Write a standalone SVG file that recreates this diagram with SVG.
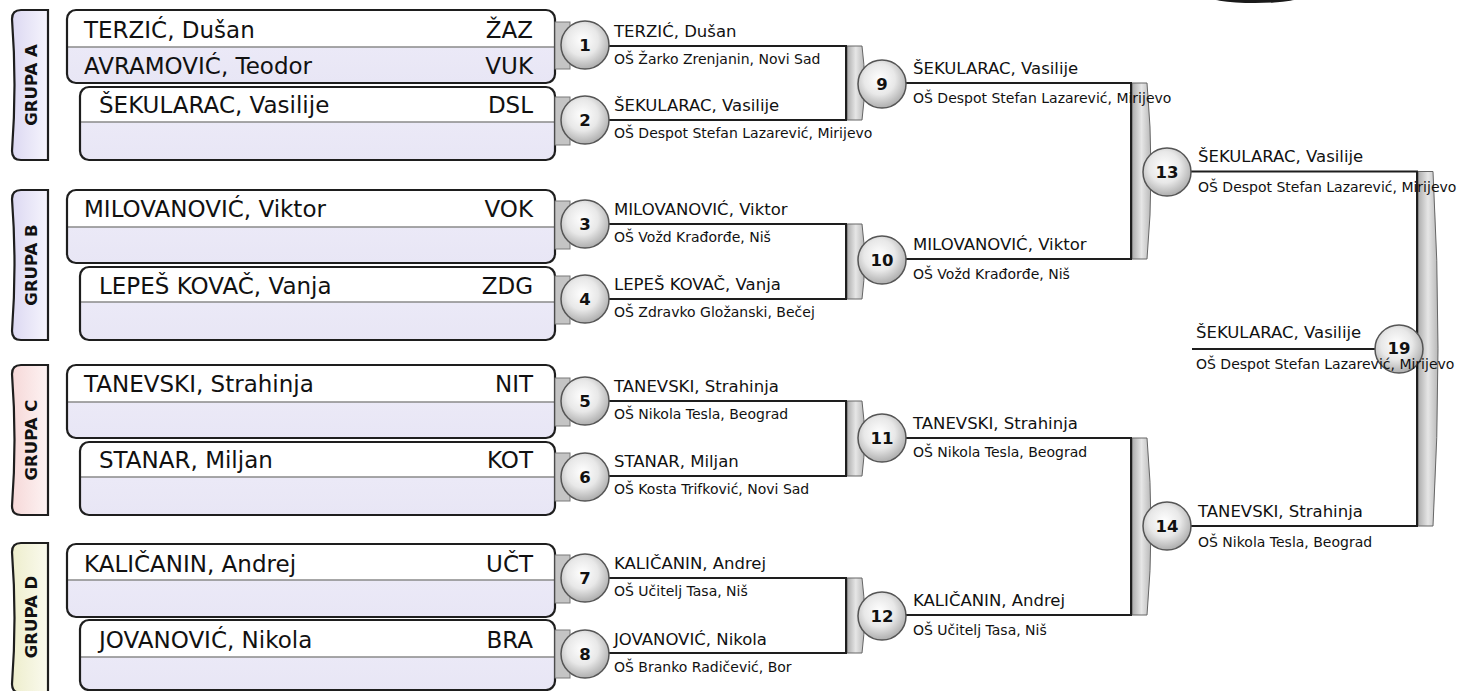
<svg xmlns="http://www.w3.org/2000/svg" width="1478" height="691" viewBox="0 0 1478 691">
<style>
text{font-family:"DejaVu Sans","Liberation Sans",sans-serif;fill:#111}
.big{font-size:23px}
.code{font-size:23px;text-anchor:end}
.nm{font-size:16.5px}
.sc{font-size:14px}
.num{font-size:16.5px;font-weight:bold;text-anchor:middle}
.grp{font-size:16.5px;font-weight:bold;text-anchor:middle}
.outline{fill:none;stroke:#1e1e1e;stroke-width:2.2}
.low{fill:url(#lowG)}
.top{fill:#fff}
.div{stroke:#8a8a8a;stroke-width:1.5}
.tab{stroke:#1e1e1e;stroke-width:2.2}
.circ{fill:url(#circG);stroke:#555;stroke-width:1.5}
.blk{fill:#c4c4c4;stroke:#7a7a7a;stroke-width:1}
.ln{fill:none;stroke:#1e1e1e;stroke-width:2}
.bar{fill:url(#barG);stroke:#666;stroke-width:1}
.edge{stroke:#1e1e1e;stroke-width:2}
</style>
<defs>
<linearGradient id="lowG" x1="0" y1="0" x2="0" y2="1"><stop offset="0" stop-color="#eeecf9"/><stop offset="1" stop-color="#e8e6f5"/></linearGradient>
<linearGradient id="tabAB" x1="0" y1="0" x2="1" y2="0"><stop offset="0" stop-color="#dcd8f2"/><stop offset="1" stop-color="#f6f5fd"/></linearGradient>
<linearGradient id="tabC" x1="0" y1="0" x2="1" y2="0"><stop offset="0" stop-color="#f6d8d8"/><stop offset="1" stop-color="#fdf3f3"/></linearGradient>
<linearGradient id="tabD" x1="0" y1="0" x2="1" y2="0"><stop offset="0" stop-color="#eeeecd"/><stop offset="1" stop-color="#fafaee"/></linearGradient>
<radialGradient id="circG" cx="0.45" cy="0.4" r="0.65"><stop offset="0" stop-color="#ffffff"/><stop offset="0.5" stop-color="#e8e8e8"/><stop offset="1" stop-color="#a4a4a4"/></radialGradient>
<linearGradient id="barG" x1="0" y1="0" x2="1" y2="0"><stop offset="0" stop-color="#acacac"/><stop offset="0.5" stop-color="#e6e6e6"/><stop offset="1" stop-color="#b8b8b8"/></linearGradient>
</defs>

<ellipse cx="1255" cy="-5" rx="50" ry="8" fill="#1a1a1a"/>

<!-- group tabs -->
<g id="grupaA">
<path class="tab" fill="url(#tabAB)" d="M48,10 H21 Q12,10 12,19 Q17,85 12,151 Q12,160 21,160 H48 Z"/>
<text class="grp" transform="translate(37,85) rotate(-90)">GRUPA A</text>
</g>
<g id="grupaB">
<path class="tab" fill="url(#tabAB)" d="M48,190 H21 Q12,190 12,199 Q17,265 12,331 Q12,340 21,340 H48 Z"/>
<text class="grp" transform="translate(37,265) rotate(-90)">GRUPA B</text>
</g>
<g id="grupaC">
<path class="tab" fill="url(#tabC)" d="M48,365 H21 Q12,365 12,374 Q17,440 12,506 Q12,515 21,515 H48 Z"/>
<text class="grp" transform="translate(37,440) rotate(-90)">GRUPA C</text>
</g>
<g id="grupaD">
<path class="tab" fill="url(#tabD)" d="M48,543 H21 Q12,543 12,552 Q17,618 12,684 Q12,693 21,693 H48 Z"/>
<text class="grp" transform="translate(37,617) rotate(-90)">GRUPA D</text>
</g>

<!-- player boxes -->
<g id="boxA1">
<rect class="low" x="67" y="10" width="488" height="73" rx="9"/>
<path class="top" d="M67,19 Q67,10 76,10 H546 Q555,10 555,19 V47 H67 Z"/>
<line class="div" x1="68" y1="47" x2="554" y2="47"/>
<rect class="outline" x="67" y="10" width="488" height="73" rx="9"/>
<text class="big" x="84" y="38">TERZIĆ, Dušan</text>
<text class="code" x="533" y="38">ŽAZ</text>
<text class="big" x="84" y="74">AVRAMOVIĆ, Teodor</text>
<text class="code" x="533" y="74">VUK</text>
</g>
<g id="boxA2">
<rect class="low" x="80" y="87" width="475" height="73" rx="9"/>
<path class="top" d="M80,96 Q80,87 89,87 H546 Q555,87 555,96 V122 H80 Z"/>
<line class="div" x1="81" y1="122" x2="554" y2="122"/>
<rect class="outline" x="80" y="87" width="475" height="73" rx="9"/>
<text class="big" x="99" y="113">ŠEKULARAC, Vasilije</text>
<text class="code" x="533" y="113">DSL</text>
</g>
<g id="boxB1">
<rect class="low" x="67" y="190" width="488" height="73" rx="9"/>
<path class="top" d="M67,199 Q67,190 76,190 H546 Q555,190 555,199 V227 H67 Z"/>
<line class="div" x1="68" y1="227" x2="554" y2="227"/>
<rect class="outline" x="67" y="190" width="488" height="73" rx="9"/>
<text class="big" x="84" y="217">MILOVANOVIĆ, Viktor</text>
<text class="code" x="533" y="217">VOK</text>
</g>
<g id="boxB2">
<rect class="low" x="80" y="267" width="475" height="73" rx="9"/>
<path class="top" d="M80,276 Q80,267 89,267 H546 Q555,267 555,276 V302 H80 Z"/>
<line class="div" x1="81" y1="302" x2="554" y2="302"/>
<rect class="outline" x="80" y="267" width="475" height="73" rx="9"/>
<text class="big" x="99" y="294">LEPEŠ KOVAČ, Vanja</text>
<text class="code" x="533" y="294">ZDG</text>
</g>
<g id="boxC1">
<rect class="low" x="67" y="365" width="488" height="73" rx="9"/>
<path class="top" d="M67,374 Q67,365 76,365 H546 Q555,365 555,374 V402 H67 Z"/>
<line class="div" x1="68" y1="402" x2="554" y2="402"/>
<rect class="outline" x="67" y="365" width="488" height="73" rx="9"/>
<text class="big" x="84" y="392">TANEVSKI, Strahinja</text>
<text class="code" x="533" y="392">NIT</text>
</g>
<g id="boxC2">
<rect class="low" x="80" y="442" width="475" height="73" rx="9"/>
<path class="top" d="M80,451 Q80,442 89,442 H546 Q555,442 555,451 V477 H80 Z"/>
<line class="div" x1="81" y1="477" x2="554" y2="477"/>
<rect class="outline" x="80" y="442" width="475" height="73" rx="9"/>
<text class="big" x="99" y="468">STANAR, Miljan</text>
<text class="code" x="533" y="468">KOT</text>
</g>
<g id="boxD1">
<rect class="low" x="67" y="544" width="488" height="73" rx="9"/>
<path class="top" d="M67,553 Q67,544 76,544 H546 Q555,544 555,553 V580 H67 Z"/>
<line class="div" x1="68" y1="580" x2="554" y2="580"/>
<rect class="outline" x="67" y="544" width="488" height="73" rx="9"/>
<text class="big" x="84" y="572">KALIČANIN, Andrej</text>
<text class="code" x="533" y="572">UČT</text>
</g>
<g id="boxD2">
<rect class="low" x="80" y="620" width="475" height="70" rx="9"/>
<path class="top" d="M80,629 Q80,620 89,620 H546 Q555,620 555,629 V657 H80 Z"/>
<line class="div" x1="81" y1="657" x2="554" y2="657"/>
<rect class="outline" x="80" y="620" width="475" height="70" rx="9"/>
<text class="big" x="99" y="648">JOVANOVIĆ, Nikola</text>
<text class="code" x="533" y="648">BRA</text>
</g>

<!-- connectors -->
<g id="connectors">
<path class="ln" d="M600,46 H846 V120 H600"/>
<path class="ln" d="M600,224 H846 V299 H600"/>
<path class="ln" d="M600,401 H846 V476 H600"/>
<path class="ln" d="M600,578 H846 V653 H600"/>
<path class="ln" d="M895,83 H1131 V259 H895"/>
<path class="ln" d="M895,438 H1131 V615 H895"/>
<path class="ln" d="M1180,171.5 H1417 V526 H1180"/>
<path class="ln" d="M1192,349 H1385"/>
<path class="bar" d="M847,46 H862 Q867,83 862,120 H847 Z"/>
<path class="bar" d="M847,224 H862 Q867,261.5 862,299 H847 Z"/>
<path class="bar" d="M847,401 H862 Q867,438.5 862,476 H847 Z"/>
<path class="bar" d="M847,578 H862 Q867,615.5 862,653 H847 Z"/>
<path class="bar" d="M1132,83 H1147 Q1155,171 1147,259 H1132 Z"/>
<path class="bar" d="M1132,438 H1147 Q1155,526.5 1147,615 H1132 Z"/>
<path class="bar" d="M1418,171.5 H1433 Q1443,349 1433,526 H1418 Z"/>
<line class="edge" x1="846" y1="46" x2="846" y2="120"/>
<line class="edge" x1="846" y1="224" x2="846" y2="299"/>
<line class="edge" x1="846" y1="401" x2="846" y2="476"/>
<line class="edge" x1="846" y1="578" x2="846" y2="653"/>
<line class="edge" x1="1131" y1="83" x2="1131" y2="259"/>
<line class="edge" x1="1131" y1="438" x2="1131" y2="615"/>
<line class="edge" x1="1417" y1="171.5" x2="1417" y2="526"/>
</g>

<!-- round 1 matches -->
<g id="m1">
<rect class="blk" x="555" y="22" width="15" height="47"/>
<circle class="circ" cx="585" cy="45" r="24"/>
<text class="num" x="585" y="51">1</text>
<text class="nm" x="614" y="37">TERZIĆ, Dušan</text>
<text class="sc" x="614" y="64">OŠ Žarko Zrenjanin, Novi Sad</text>
</g>
<g id="m2">
<rect class="blk" x="555" y="97" width="15" height="48"/>
<circle class="circ" cx="585" cy="120" r="24"/>
<text class="num" x="585" y="126">2</text>
<text class="nm" x="614" y="111">ŠEKULARAC, Vasilije</text>
<text class="sc" x="614" y="138">OŠ Despot Stefan Lazarević, Mirijevo</text>
</g>
<g id="m3">
<rect class="blk" x="555" y="201" width="15" height="48"/>
<circle class="circ" cx="585" cy="224" r="24"/>
<text class="num" x="585" y="230">3</text>
<text class="nm" x="614" y="215">MILOVANOVIĆ, Viktor</text>
<text class="sc" x="614" y="242">OŠ Vožd Krađorđe, Niš</text>
</g>
<g id="m4">
<rect class="blk" x="555" y="276" width="15" height="48"/>
<circle class="circ" cx="585" cy="299" r="24"/>
<text class="num" x="585" y="305">4</text>
<text class="nm" x="614" y="290">LEPEŠ KOVAČ, Vanja</text>
<text class="sc" x="614" y="317">OŠ Zdravko Gložanski, Bečej</text>
</g>
<g id="m5">
<rect class="blk" x="555" y="378" width="15" height="48"/>
<circle class="circ" cx="585" cy="401" r="24"/>
<text class="num" x="585" y="407">5</text>
<text class="nm" x="614" y="392">TANEVSKI, Strahinja</text>
<text class="sc" x="614" y="419">OŠ Nikola Tesla, Beograd</text>
</g>
<g id="m6">
<rect class="blk" x="555" y="453" width="15" height="48"/>
<circle class="circ" cx="585" cy="477" r="24"/>
<text class="num" x="585" y="483">6</text>
<text class="nm" x="614" y="467">STANAR, Miljan</text>
<text class="sc" x="614" y="494">OŠ Kosta Trifković, Novi Sad</text>
</g>
<g id="m7">
<rect class="blk" x="555" y="555" width="15" height="48"/>
<circle class="circ" cx="585" cy="578" r="24"/>
<text class="num" x="585" y="584">7</text>
<text class="nm" x="614" y="569">KALIČANIN, Andrej</text>
<text class="sc" x="614" y="596">OŠ Učitelj Tasa, Niš</text>
</g>
<g id="m8">
<rect class="blk" x="555" y="630" width="15" height="48"/>
<circle class="circ" cx="585" cy="654" r="24"/>
<text class="num" x="585" y="660">8</text>
<text class="nm" x="614" y="645">JOVANOVIĆ, Nikola</text>
<text class="sc" x="614" y="672">OŠ Branko Radičević, Bor</text>
</g>

<!-- round 2 -->
<g id="m9">
<circle class="circ" cx="882" cy="84" r="24"/>
<text class="num" x="882" y="90">9</text>
<text class="nm" x="913" y="74">ŠEKULARAC, Vasilije</text>
<text class="sc" x="913" y="103">OŠ Despot Stefan Lazarević, Mirijevo</text>
</g>
<g id="m10">
<circle class="circ" cx="882" cy="260" r="24"/>
<text class="num" x="882" y="266">10</text>
<text class="nm" x="913" y="250">MILOVANOVIĆ, Viktor</text>
<text class="sc" x="913" y="279">OŠ Vožd Krađorđe, Niš</text>
</g>
<g id="m11">
<circle class="circ" cx="882" cy="438" r="24"/>
<text class="num" x="882" y="444">11</text>
<text class="nm" x="913" y="429">TANEVSKI, Strahinja</text>
<text class="sc" x="913" y="457">OŠ Nikola Tesla, Beograd</text>
</g>
<g id="m12">
<circle class="circ" cx="882" cy="616" r="24"/>
<text class="num" x="882" y="622">12</text>
<text class="nm" x="913" y="606">KALIČANIN, Andrej</text>
<text class="sc" x="913" y="635">OŠ Učitelj Tasa, Niš</text>
</g>

<!-- round 3 -->
<g id="m13">
<circle class="circ" cx="1167" cy="172" r="24"/>
<text class="num" x="1167" y="178">13</text>
<text class="nm" x="1198" y="162">ŠEKULARAC, Vasilije</text>
<text class="sc" x="1198" y="192">OŠ Despot Stefan Lazarević, Mirijevo</text>
</g>
<g id="m14">
<circle class="circ" cx="1167" cy="526" r="24"/>
<text class="num" x="1167" y="532">14</text>
<text class="nm" x="1198" y="517">TANEVSKI, Strahinja</text>
<text class="sc" x="1198" y="547">OŠ Nikola Tesla, Beograd</text>
</g>

<!-- final -->
<g id="m19">
<circle class="circ" cx="1399" cy="349" r="24"/>
<text class="num" x="1399" y="354">19</text>
<text class="nm" x="1196" y="338">ŠEKULARAC, Vasilije</text>
<text class="sc" x="1196" y="369">OŠ Despot Stefan Lazarević, Mirijevo</text>
</g>
</svg>
